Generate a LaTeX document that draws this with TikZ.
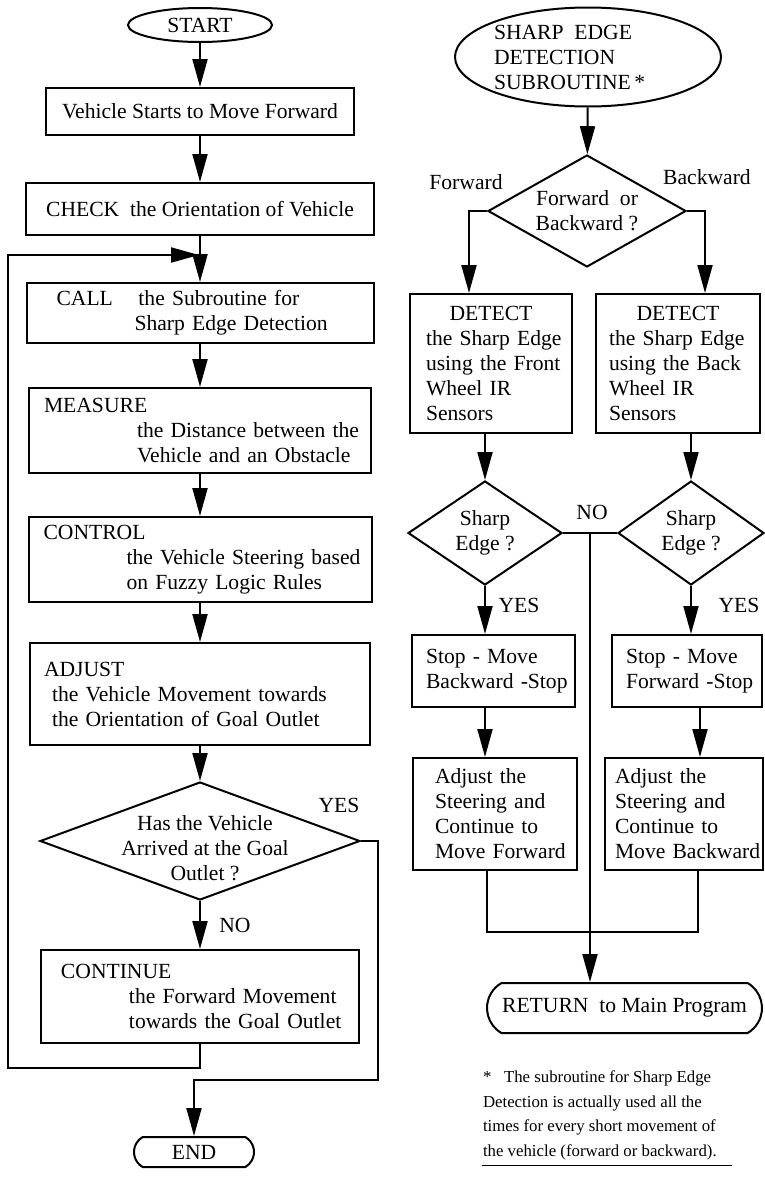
\documentclass[tikz,border=0pt]{standalone}
\usepackage{fontspec}
\setmainfont{Liberation Serif}
\usetikzlibrary{arrows.meta,shapes.geometric,shapes.misc}
\tikzset{
  procbox/.style={draw, rectangle, inner xsep=0pt, inner ysep=0pt, align=left},
  decision/.style={draw, diamond, inner sep=0pt, align=center},
  oval/.style={draw, ellipse, inner sep=0pt},
  terminal/.style={draw, rounded rectangle, rounded rectangle arc length=120, inner sep=0pt},
  flow/.style={-{Triangle[length=28pt,width=15pt]}},
  lbl/.style={inner sep=0pt, align=left}
}
\begin{document}
\begin{tikzpicture}[x=1pt, y=-1pt, line width=2pt, font=\fontsize{21.6}{25}\selectfont]
\useasboundingbox (0,0) rectangle (765,1178);
% main program
\node[oval, minimum width=144pt, minimum height=34pt] (start) at (200,25) {START};
\node[procbox, minimum width=308pt, minimum height=47pt] (veh) at (200,111.5) {Vehicle Starts to Move Forward};
\node[procbox, minimum width=348pt, minimum height=52pt] (check) at (200,209) {CHECK\ \ the Orientation of Vehicle};
\node[procbox, minimum width=347pt, text width=347pt, minimum height=60pt] (call) at (200,313)
  {\hspace*{30pt}\makebox[82pt][l]{CALL}the Subroutine for\\ \hspace*{108pt}Sharp Edge Detection};
\node[procbox, minimum width=342pt, text width=342pt, minimum height=85pt] (measure) at (200,430.5)
  {\hspace*{15pt}MEASURE\\ \hspace*{108pt}the Distance between the\\ \hspace*{108pt}Vehicle and an Obstacle};
\node[procbox, minimum width=343pt, text width=343pt, minimum height=85pt] (control) at (200,559.5)
  {\hspace*{15pt}CONTROL\\ \hspace*{98pt}the Vehicle Steering based\\ \hspace*{98pt}on Fuzzy Logic Rules};
\node[procbox, minimum width=340pt, text width=340pt, minimum height=102pt] (adjust) at (200,694)
  {\hspace*{14pt}ADJUST\\ \hspace*{22pt}the Vehicle Movement towards\\ \hspace*{22pt}the Orientation of Goal Outlet};
\node[decision, minimum width=320pt, minimum height=118pt, aspect=2.7] (arrive) at (200,841) {};
\node[lbl, align=center] (arrivetxt) at (205,848) {Has the Vehicle\\Arrived at the Goal\\Outlet ?};
\node[procbox, minimum width=318pt, text width=318pt, minimum height=93pt] (cont) at (200,996.5)
  {\hspace*{20pt}CONTINUE\\ \hspace*{88pt}the Forward Movement\\ \hspace*{88pt}towards the Goal Outlet};
\node[terminal, minimum width=120pt, minimum height=30pt] (finish) at (194,1152) {END};
\node[lbl] (yesA) at (339,805) {YES};
\node[lbl] (noA) at (235,925) {NO};
\coordinate (merge) at (199,255);
\coordinate (loopc) at (8,1068);
\coordinate (yesc) at (378,1080);
\draw[flow] (start) -- (veh);
\draw[flow] (veh) -- (check);
\draw[flow] (check) -- (call);
\draw[flow] (call) -- (measure);
\draw[flow] (measure) -- (control);
\draw[flow] (control) -- (adjust);
\draw[flow] (adjust) -- (arrive);
\draw[flow] (arrive) -- (cont);
\draw[flow] (cont.south) |- (loopc) |- (merge);
\draw[flow] (arrive.east) -| (yesc) -| (finish.north);
% subroutine
\node[oval, minimum width=266pt, minimum height=99pt] (subr) at (588,57) {};
\node[lbl, anchor=west] (subrtxt) at (493,57) {SHARP\ \ EDGE\\DETECTION\\SUBROUTINE\,*};
\node[decision, minimum width=198pt, minimum height=112pt, aspect=1.77] (fob) at (587,211) {Forward\ \ or\\Backward ?};
\node[lbl] (fwdlbl) at (466,182) {Forward};
\node[lbl] (bwdlbl) at (707,177) {Backward};
\node[procbox, minimum width=162pt, text width=162pt, minimum height=139pt] (detF) at (491,363.5)
  {\makebox[\linewidth]{DETECT}\\ \hspace*{16pt}the Sharp Edge\\ \hspace*{16pt}using the Front\\ \hspace*{16pt}Wheel IR\\ \hspace*{16pt}Sensors};
\node[procbox, minimum width=164pt, text width=164pt, minimum height=139pt] (detB) at (678,363.5)
  {\makebox[\linewidth]{DETECT}\\ \hspace*{13pt}the Sharp Edge\\ \hspace*{13pt}using the Back\\ \hspace*{13pt}Wheel IR\\ \hspace*{13pt}Sensors};
\node[decision, minimum width=154pt, minimum height=104pt, aspect=1.48] (sharpF) at (485,533) {Sharp\\Edge ?};
\node[decision, minimum width=146pt, minimum height=104pt, aspect=1.4] (sharpB) at (691,533) {Sharp\\Edge ?};
\node[lbl] (noB) at (592,512) {NO};
\node[lbl] (yesF) at (519,605) {YES};
\node[lbl] (yesB) at (739,605) {YES};
\node[procbox, minimum width=163pt, text width=163pt, minimum height=72pt] (stopB) at (493.5,671)
  {\hspace*{14pt}Stop - Move\\ \hspace*{14pt}Backward -Stop};
\node[procbox, minimum width=150pt, text width=150pt, minimum height=72pt] (stopF) at (687,671)
  {\hspace*{14pt}Stop - Move\\ \hspace*{14pt}Forward -Stop};
\node[procbox, minimum width=164pt, text width=164pt, minimum height=112pt] (adjF) at (495,814)
  {\hspace*{22pt}Adjust the\\ \hspace*{22pt}Steering and\\ \hspace*{22pt}Continue to\\ \hspace*{22pt}Move Forward};
\node[procbox, minimum width=158pt, text width=158pt, minimum height=112pt] (adjB) at (684,814)
  {\hspace*{10pt}Adjust the\\ \hspace*{10pt}Steering and\\ \hspace*{10pt}Continue to\\ \hspace*{10pt}Move Backward};
\node[terminal, minimum width=275pt, minimum height=50pt] (ret) at (624.5,1008) {RETURN\ \ to Main Program};
\coordinate (nodrop) at (590,533);
\coordinate (joinF) at (487,932);
\coordinate (joinB) at (698,932);
\draw[flow] (subr) -- (fob);
\draw[flow] (fob.west) -| ([xshift=-22pt]detF.north);
\draw[flow] (fob.east) -| ([xshift=27pt]detB.north);
\draw[flow] (sharpF.north |- detF.south) -- (sharpF.north);
\draw[flow] (sharpB.north |- detB.south) -- (sharpB.north);
\draw (sharpF.east) -- (sharpB.west);
\draw[flow] (nodrop) -- (nodrop |- ret.north);
\draw[flow] (sharpF.south) -- (sharpF.south |- stopB.north);
\draw[flow] (sharpB.south) -- (sharpB.south |- stopF.north);
\draw[flow] (sharpF.south |- stopB.south) -- (sharpF.south |- adjF.north);
\draw[flow] ([xshift=13pt]stopF.south) -- ([xshift=13pt]stopF.south |- adjB.north);
\draw (joinF |- adjF.south) -- (joinF) -- (joinB) -- (joinB |- adjB.south);
% footnote
\node[lbl, anchor=north west, font=\fontsize{16.8}{24.4}\selectfont] (note) at (482,1070)
  {*\ \ \ The subroutine for Sharp Edge\\Detection is actually used all the\\times for every short movement of\\the vehicle (forward or backward).};
\draw[line width=1.2pt] ([yshift=-5pt]note.south west) -- ([yshift=-5pt,xshift=250pt]note.south west);
\end{tikzpicture}
\end{document}
